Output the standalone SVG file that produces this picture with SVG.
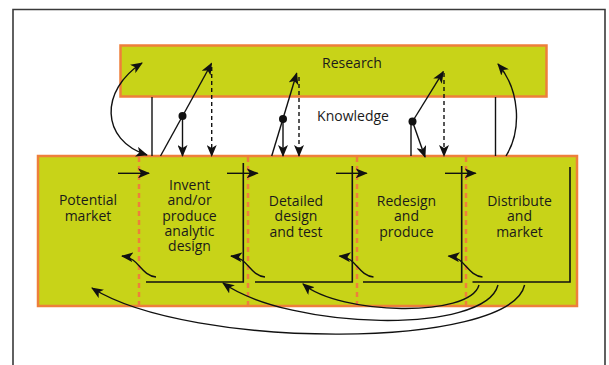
<svg xmlns="http://www.w3.org/2000/svg" width="609" height="365" viewBox="0 0 609 365">
<style>
.box{fill:#c8d318;stroke:#ee7f3b;stroke-width:2.5}
.div{stroke:#ee7f3b;stroke-width:2.5;stroke-dasharray:5 4;fill:none}
.t{font-family:"Open Sans","Liberation Sans",sans-serif;font-size:14px;fill:#1a1a1a;text-anchor:middle}
.ln{stroke:#111;stroke-width:1.4;fill:none}
.ar{stroke:#111;stroke-width:1.4;fill:none;marker-end:url(#ah)}
.da{stroke:#111;stroke-width:1.4;fill:none;stroke-dasharray:4 3;marker-end:url(#ah)}
.br{stroke:#111;stroke-width:1.6;fill:none}
</style>
<defs>
<marker id="ah" viewBox="0 0 12 10" refX="11" refY="5" markerWidth="12" markerHeight="10" orient="auto-start-reverse" markerUnits="userSpaceOnUse">
<path d="M0,0 L12,5 L0,10 L3,5 Z" fill="#111"/>
</marker>
</defs>
<rect x="0" y="0" width="609" height="365" fill="#fff"/>
<path d="M13,370 V9.5 H605 V370" fill="none" stroke="#3a3a3a" stroke-width="1.6"/>

<g id="research">
<rect class="box" x="120.5" y="45.5" width="426" height="51"/>
<text class="t" x="352" y="67.5">Research</text>
</g>

<g id="process">
<rect class="box" x="38" y="156" width="539" height="150"/>
<line class="div" x1="139" y1="157" x2="139" y2="305"/>
<line class="div" x1="248" y1="157" x2="248" y2="305"/>
<line class="div" x1="357" y1="157" x2="357" y2="305"/>
<line class="div" x1="466" y1="157" x2="466" y2="305"/>
</g>

<g id="potential-market">
<text class="t" x="88" y="205">Potential</text>
<text class="t" x="88" y="220.5">market</text>
</g>
<g id="invent">
<path class="br" d="M146,282 H243.3 V163"/>
<text class="t" x="189.5" y="190">Invent</text>
<text class="t" x="189.5" y="205.3">and/or</text>
<text class="t" x="189.5" y="220.6">produce</text>
<text class="t" x="189.5" y="235.9">analytic</text>
<text class="t" x="189.5" y="251.2">design</text>
</g>
<g id="detailed">
<path class="br" d="M255,282 H352.3 V166"/>
<text class="t" x="296" y="206">Detailed</text>
<text class="t" x="296" y="221.3">design</text>
<text class="t" x="296" y="236.6">and test</text>
</g>
<g id="redesign">
<path class="br" d="M363,282 H461.7 V166"/>
<text class="t" x="406.5" y="206">Redesign</text>
<text class="t" x="406.5" y="221.3">and</text>
<text class="t" x="406.5" y="236.6">produce</text>
</g>
<g id="distribute">
<path class="br" d="M472.5,282 H570 V167"/>
<text class="t" x="519.5" y="206">Distribute</text>
<text class="t" x="519.5" y="221.3">and</text>
<text class="t" x="519.5" y="236.6">market</text>
</g>

<g id="knowledge">
<text class="t" x="353" y="121">Knowledge</text>
</g>

<g id="connectors">
<!-- research links -->
<line class="ln" x1="152" y1="97" x2="152" y2="156"/>
<line class="ln" x1="495.5" y1="97" x2="495.5" y2="156"/>
<path class="ar" d="M147,155 C100,140 100,90 142,63" marker-start="url(#ah)"/>
<path class="ar" d="M506,156 C522,130 520,90 498,64"/>
<!-- group 1 -->
<line class="ar" x1="160.5" y1="156" x2="211.5" y2="63.5"/>
<line class="ar" x1="182.5" y1="116" x2="182.5" y2="156"/>
<line class="da" x1="211.7" y1="67" x2="211.7" y2="156"/>
<circle cx="182.5" cy="116" r="4" fill="#111"/>
<!-- group 2 -->
<line class="ar" x1="271.7" y1="156" x2="296.7" y2="73.3"/>
<line class="ar" x1="283" y1="119" x2="283" y2="156"/>
<line class="da" x1="299" y1="77" x2="299" y2="156"/>
<circle cx="283" cy="119" r="4" fill="#111"/>
<!-- group 3 -->
<line class="ar" x1="412.5" y1="121.5" x2="443.3" y2="71.7"/>
<line class="ln" x1="411" y1="121.5" x2="411" y2="156"/>
<line class="ar" x1="412.5" y1="121.5" x2="425" y2="157"/>
<line class="da" x1="444" y1="73" x2="444" y2="156"/>
<circle cx="412.5" cy="121.5" r="4" fill="#111"/>
<!-- forward arrows -->
<line class="ar" x1="118" y1="173.3" x2="149" y2="173.3"/>
<line class="ar" x1="227" y1="173.3" x2="257.7" y2="173.3"/>
<line class="ar" x1="336" y1="173.3" x2="366.7" y2="173.3"/>
<line class="ar" x1="445" y1="173.3" x2="475.7" y2="173.3"/>
<!-- small back arrows -->
<path class="ar" d="M156,277 C140,275 140,258 122,256"/>
<path class="ar" d="M265,277 C249,275 249,258 231,256"/>
<path class="ar" d="M373.5,277 C357.5,275 357.5,258 339.5,256"/>
<path class="ar" d="M482.5,277 C466.5,275 466.5,258 448.5,256"/>
<!-- long back arrows -->
<path class="ar" d="M479,285 C470,318 340,315 303,284"/>
<path class="ar" d="M498,285 C485,335 290,330 223,283"/>
<path class="ar" d="M524.6,285 C510,350 190,350 92,288"/>
</g>
</svg>
